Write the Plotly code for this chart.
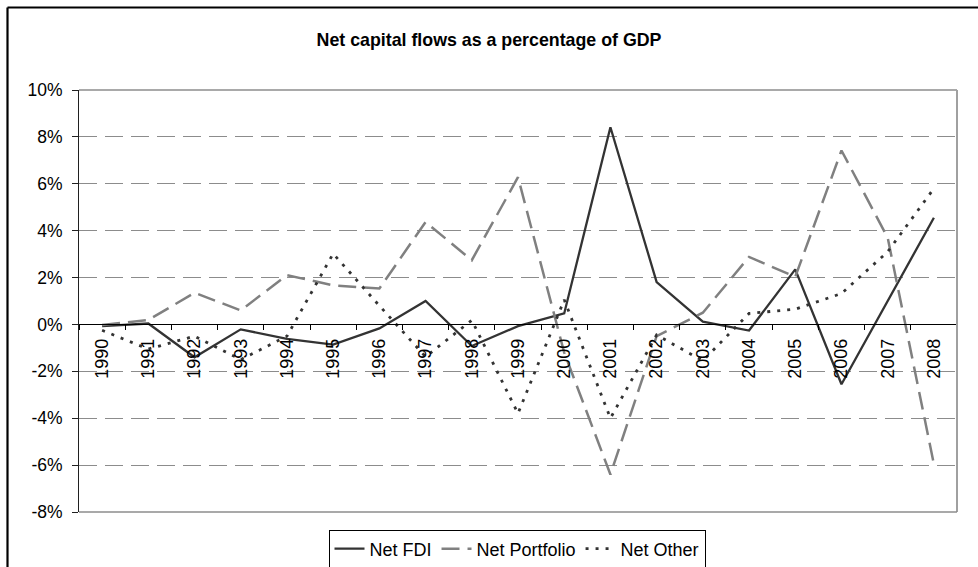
import plotly.graph_objects as go

years = [str(y) for y in range(1990, 2009)]
net_fdi = [-0.07, 0.04, -1.40, -0.21, -0.62, -0.86, -0.17, 1.00, -0.92, -0.07,
           0.47, 8.41, 1.81, 0.12, -0.26, 2.35, -2.55, 1.00, 4.55]
net_portfolio = [-0.02, 0.19, 1.35, 0.60, 2.10, 1.67, 1.53, 4.37, 2.74, 6.28,
                 -1.20, -6.40, -0.50, 0.50, 2.88, 2.03, 7.42, 3.70, -5.96]
net_other = [-0.25, -1.05, -0.50, -1.50, -0.50, 3.02, 0.80, -1.38, 0.18, -3.80,
             1.05, -4.00, -0.45, -1.55, 0.47, 0.65, 1.32, 3.10, 5.80]
y_tick_vals = [-8, -6, -4, -2, 0, 2, 4, 6, 8, 10]
y_tick_text = ["-8%", "-6%", "-4%", "-2%", "0%", "2%", "4%", "6%", "8%", "10%"]
title_text = "Net capital flows as a percentage of GDP"

FONT = "Arial, 'Liberation Sans', sans-serif"
Y_MIN, Y_MAX = -8, 10

fig = go.Figure()
fig.add_trace(go.Scatter(x=years, y=net_fdi, name="Net FDI", mode="lines",
                         line=dict(color="#333333", width=2.3)))
fig.add_trace(go.Scatter(x=years, y=net_portfolio, name="Net Portfolio", mode="lines",
                         line=dict(color="#808080", width=2.5, dash="18px,8px")))
fig.add_trace(go.Scatter(x=years, y=net_other, name="Net Other", mode="lines",
                         line=dict(color="#333333", width=2.8, dash="3px,7px")))

W, H = 978, 567
ml, mr, mt, mb = 79, 21, 90, 55
pw, ph = W - ml - mr, H - mt - mb

def px_x(px):
    return (px - ml) / pw

def px_y(py):
    return (H - mb - py) / ph

zero_pos = (0 - Y_MIN) / (Y_MAX - Y_MIN)

fig.update_layout(
    template="none",
    width=W, height=H, autosize=False,
    margin=dict(l=ml, r=mr, t=mt, b=mb, pad=0, autoexpand=False),
    paper_bgcolor="white", plot_bgcolor="white",
    font=dict(family=FONT, size=17, color="black"),
    title=dict(text=title_text, x=0.5, xref="container", xanchor="center",
               y=1 - 40 / H, yref="container", yanchor="middle",
               font=dict(family=FONT, size=17.8, color="black", weight="bold")),
    showlegend=True,
    legend=dict(orientation="h", x=517 / W, xanchor="center", xref="container",
                y=1 - 549 / H, yanchor="middle", yref="container",
                bgcolor="white", bordercolor="black", borderwidth=1,
                font=dict(family=FONT, size=18, color="black"),
                itemwidth=30, tracegroupgap=0),
    xaxis=dict(type="category", range=[-0.5, len(years) - 0.5],
               anchor="free", position=zero_pos,
               automargin=False,
               showline=True, linecolor="black", linewidth=1,
               ticks="outside", tickson="boundaries", ticklen=5,
               tickcolor="black", tickwidth=1,
               tickangle=-90, ticklabelstandoff=6,
               showgrid=False, zeroline=False,
               tickfont=dict(family=FONT, size=18, color="black")),
    yaxis=dict(range=[Y_MIN, Y_MAX], tickvals=y_tick_vals, ticktext=y_tick_text,
               automargin=False,
               showline=True, linecolor="#202020", linewidth=1,
               ticks="outside", ticklen=6, tickcolor="#202020", tickwidth=1,
               ticklabelstandoff=6,
               showgrid=True, gridcolor="#8c8c8c", gridwidth=1, griddash="18px,8px",
               zeroline=False,
               tickfont=dict(family=FONT, size=17.5, color="black")),
    shapes=[
        # plot area border (top, right, bottom)
        dict(type="line", xref="x domain", yref="y domain", x0=0, x1=1, y0=1, y1=1,
             line=dict(color="#8c8c8c", width=1.5)),
        dict(type="line", xref="x domain", yref="y domain", x0=1, x1=1, y0=0, y1=1,
             line=dict(color="#a0a0a0", width=2)),
        dict(type="line", xref="x domain", yref="y domain", x0=0, x1=1, y0=0, y1=0,
             line=dict(color="#8c8c8c", width=1.5)),
        # outer chart frame
        dict(type="line", xref="paper", yref="paper",
             x0=px_x(7.5), x1=px_x(7.5), y0=px_y(7.5), y1=px_y(600),
             line=dict(color="black", width=2.2)),
        dict(type="line", xref="paper", yref="paper",
             x0=px_x(7.5), x1=px_x(1000), y0=px_y(7.5), y1=px_y(7.5),
             line=dict(color="black", width=2.2)),
    ],
)

fig.write_html("out.html",
               config={"displayModeBar": False},
               post_script="document.body.style.margin='0';document.body.style.overflow='hidden';")
